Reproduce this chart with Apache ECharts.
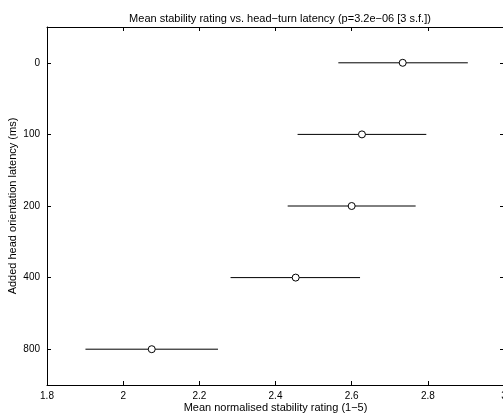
<!DOCTYPE html>
<html>
<head>
<meta charset="utf-8">
<script src="https://cdn.jsdelivr.net/npm/echarts@6/dist/echarts.min.js"></script>
<style>
html, body { margin: 0; padding: 0; background: #fff; }
#chart { width: 503px; height: 414px; }
</style>
</head>
<body>
<div id="chart"></div>
<script>
// latency conditions (ms), top to bottom
var latencies = ['0', '100', '200', '400', '800'];
// mean normalised rating and error bar ends
var means = [2.734, 2.627, 2.600, 2.453, 2.075];
var lows = [2.565, 2.458, 2.432, 2.282, 1.901];
var highs = [2.905, 2.796, 2.768, 2.622, 2.249];

var fontName = 'Liberation Sans';

var barData = [];
var pointData = [];
for (var i = 0; i < latencies.length; i++) {
	barData.push([i, lows[i], highs[i]]);
	pointData.push([means[i], i]);
}

var chart = echarts.init(document.getElementById('chart'));

var valueAxis = function (pos, showLabels) {
	return {
		type: 'value',
		position: pos,
		min: 1.8,
		max: 3,
		interval: 0.2,
		name: showLabels ? 'Mean normalised stability rating (1\u22125)' : '',
		nameLocation: 'middle',
		nameGap: 17,
		nameMoveOverlap: false,
		nameTextStyle: { fontFamily: fontName, fontSize: 11, color: '#000' },
		axisLine: { show: true, onZero: false, lineStyle: { color: '#000', width: 1 } },
		axisTick: { show: true, inside: true, length: 4, lineStyle: { color: '#000' } },
		axisLabel: {
			show: showLabels,
			margin: 6,
			fontFamily: fontName,
			fontSize: 10,
			color: '#000',
			formatter: function (v) { return String(Math.round(v * 10) / 10); }
		},
		splitLine: { show: false }
	};
};

var catAxis = function (pos, showLabels) {
	return {
		type: 'category',
		position: pos,
		inverse: true,
		data: latencies,
		name: showLabels ? 'Added head orientation latency (ms)' : '',
		nameLocation: 'middle',
		nameGap: 29,
		nameMoveOverlap: false,
		nameTextStyle: { fontFamily: fontName, fontSize: 11, color: '#000' },
		axisLine: { show: true, onZero: false, lineStyle: { color: '#000', width: 1 } },
		axisTick: { show: true, inside: true, length: 4, alignWithLabel: true, lineStyle: { color: '#000' } },
		axisLabel: { show: showLabels, margin: 7, fontFamily: fontName, fontSize: 10, color: '#000' },
		splitLine: { show: false }
	};
};

var option = {
	animation: false,
	backgroundColor: '#fff',
	title: {
		text: 'Mean stability rating vs. head\u2212turn latency (p=3.2e\u221206 [3 s.f.])',
		left: 275,
		textAlign: 'center',
		top: 8,
		textStyle: { fontFamily: fontName, fontSize: 11, fontWeight: 'normal', color: '#000' }
	},
	grid: { left: 47, top: 27, width: 457, height: 358, containLabel: false, outerBoundsMode: 'none' },
	xAxis: [valueAxis('bottom', true), valueAxis('top', false)],
	yAxis: [catAxis('left', true), catAxis('right', false)],
	series: [
		{
			type: 'custom',
			data: barData,
			renderItem: function (params, api) {
				var y = api.value(0);
				var a = api.coord([api.value(1), y]);
				var b = api.coord([api.value(2), y]);
				return {
					type: 'line',
					shape: { x1: a[0], y1: a[1], x2: b[0], y2: b[1] },
					style: { stroke: '#000', lineWidth: 1 }
				};
			},
			encode: { x: [1, 2], y: 0 },
			z: 1
		},
		{
			type: 'scatter',
			data: pointData,
			symbol: 'circle',
			symbolSize: 7,
			itemStyle: { color: '#fff', borderColor: '#000', borderWidth: 1, opacity: 1 },
			z: 2
		}
	]
};

chart.setOption(option);
</script>
</body>
</html>
